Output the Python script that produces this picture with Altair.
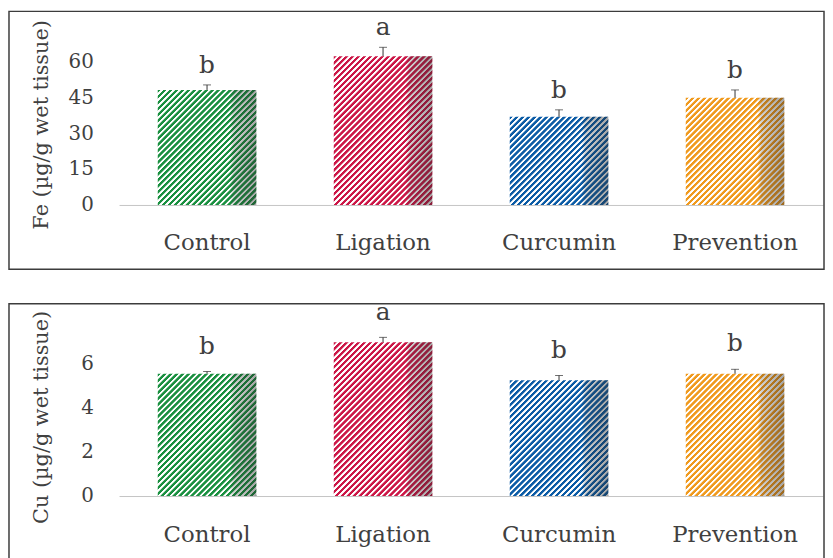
import math
import altair as alt
import pandas as pd

categories = ["Control", "Ligation", "Curcumin", "Prevention"]
bar_colors = ["#1a9040", "#cc1747", "#0c5ca6", "#f09a1e"]

fe_mean = [48.0, 62.1, 36.8, 44.7]
fe_err = [2.1, 3.7, 2.9, 3.3]
fe_letters = ["b", "a", "b", "b"]
fe_ticks = [0, 15, 30, 45, 60]

cu_mean = [5.55, 6.98, 5.25, 5.55]
cu_err = [0.10, 0.22, 0.22, 0.20]
cu_letters = ["b", "a", "b", "b"]
cu_ticks = [0, 2, 4, 6]

FONT = "DejaVu Serif"
TXT = "#404040"
W = 710
PI, PO = 0.44, 0.22
STEP = W / (len(categories) - PI + 2 * PO)
BW = STEP * (1 - PI)
PERIOD = 6.0      # stripe period along x (px)
LUT = 255

SHADE = {
    "gradient": "linear", "x1": 0, "y1": 0, "x2": 1, "y2": 0,
    "stops": [
        {"offset": 0, "color": "rgba(0,0,0,0)"},
        {"offset": 0.73, "color": "rgba(0,0,0,0)"},
        {"offset": 0.77, "color": "rgba(40,40,40,0.22)"},
        {"offset": 1, "color": "rgba(40,40,40,0.42)"},
    ],
}


def stripe_gradient(color, w, h):
    """Diagonal stripes (45 deg) as a smooth trapezoid-wave linear gradient."""
    s = w + h
    k = max(2, int(math.floor(PERIOD * LUT / s)))
    L = PERIOD * LUT / k          # px of (x+y) spanned by t in [0, 1]
    a = w * L / (w * w + h * h)
    b = h * L / (w * w + h * h)
    p = PERIOD / L                # period in t
    c, r = 0.45 * p, 0.11 * p     # colour plateau, ramp width
    stops = []
    t = 0.0
    while t < 1.0:
        for off, col in ((t, color), (t + c, color), (t + c + r, "#ffffff"),
                         (t + p - r, "#ffffff")):
            if off <= 1.0:
                stops.append({"offset": round(off, 6), "color": col})
        t += p
    return {"gradient": "linear", "x1": 0, "y1": 0, "x2": round(a, 6), "y2": round(b, 6), "stops": stops}


def panel(means, errs, letters, ticks, ymax, height, title, label_pad,
          title_y, letter_dy, box_top, box_bottom):
    df = pd.DataFrame({"group": categories, "mean": means, "err": errs, "letter": letters})
    df["upper"] = df["mean"] + df["err"]

    xaxis = alt.Axis(title=None, labelAngle=0, labelFont=FONT, labelFontSize=23,
                     labelColor=TXT, labelBaseline="alphabetic", labelPadding=label_pad,
                     ticks=False, tickSize=0, domainColor="#c4c4c4", domainWidth=1)
    xenc = alt.X("group:N", sort=categories,
                 scale=alt.Scale(domain=categories, paddingInner=PI, paddingOuter=PO),
                 axis=xaxis)
    yscale = alt.Scale(domain=[0, ymax], nice=False, zero=True)
    yaxis = alt.Axis(values=ticks, title=title, grid=False, domain=False, ticks=False,
                     tickSize=0, labelPadding=26, labelFont=FONT, labelFontSize=20,
                     labelColor=TXT, titleFont=FONT, titleFontSize=21,
                     titleFontWeight="normal", titleColor=TXT, titleAngle=270,
                     titleX=-72, titleY=title_y, titleAlign="center",
                     titleBaseline="alphabetic")
    ymean = alt.Y("mean:Q", scale=yscale, axis=yaxis)
    yup = alt.Y("upper:Q", scale=yscale, axis=yaxis)

    base = alt.Chart(df)
    layers = []
    for i, cat in enumerate(categories):
        h = means[i] / ymax * height
        layers.append(
            base.transform_filter(alt.datum.group == cat)
            .mark_bar(fill=stripe_gradient(bar_colors[i], BW, h))
            .encode(x=xenc, y=ymean)
        )
    layers.append(base.mark_bar(fill=SHADE).encode(x=xenc, y=ymean))
    layers.append(base.mark_rule(color="#333333", strokeWidth=1)
                  .encode(x=xenc, y=ymean, y2="upper:Q"))
    layers.append(base.mark_tick(color="#333333", thickness=1, size=8)
                  .encode(x=xenc, y=yup))
    layers.append(base.mark_text(dy=letter_dy, baseline="alphabetic", font=FONT,
                                 fontSize=25, color=TXT)
                  .encode(x=xenc, y=yup, text="letter:N"))
    border = alt.Chart(pd.DataFrame({"k": [0]})).mark_rect(
        filled=False, stroke="#3c3c3c", strokeWidth=1.5
    ).encode(x=alt.value(-111), x2=alt.value(W + 1), y=alt.value(box_top), y2=alt.value(box_bottom))
    layers.append(border)
    return alt.layer(*layers).properties(width=W, height=height)


top = panel(fe_mean, fe_err, fe_letters, fe_ticks, 75, 181.25,
            "Fe  (\u00b5g/g wet tissue)", 45, 100, -12, -14, 246)
bottom = panel(cu_mean, cu_err, cu_letters, cu_ticks, 8, 177.8,
               "Cu (\u00b5g/g wet tissue)", 46, 98, -18, -16, 248)

chart = alt.vconcat(top, bottom, spacing=29).properties(
    padding=0, background="white"
).configure_view(stroke=None)

chart.save("out.html", embed_options={"renderer": "svg", "actions": False})
